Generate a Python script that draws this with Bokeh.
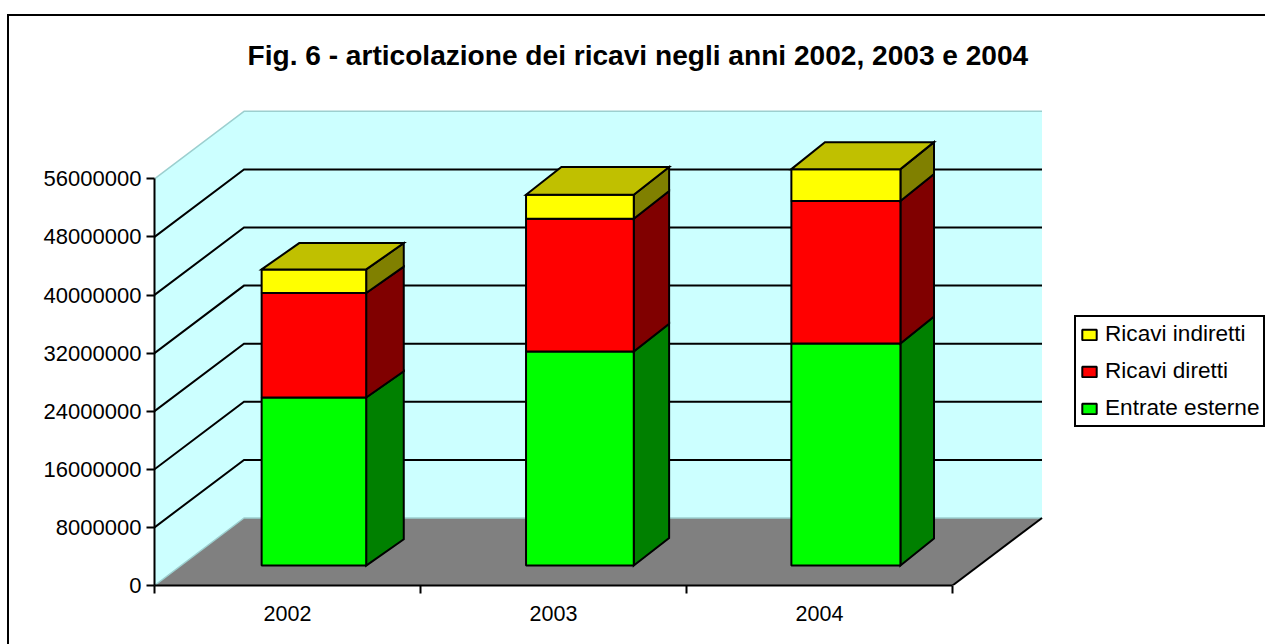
from bokeh.embed import file_html
from bokeh.resources import INLINE
from bokeh.plotting import figure
from bokeh.models import (ColumnDataSource, FixedTicker, Legend, LegendItem, LinearAxis,
                          NumeralTickFormatter, Range1d, Title)

# ---- data -------------------------------------------------------------
TITLE = "Fig. 6 - articolazione dei ricavi negli anni 2002, 2003 e 2004"
years = ["2002", "2003", "2004"]
entrate_esterne = [23140000, 29480000, 30580000]
ricavi_diretti = [14400000, 18280000, 19630000]
ricavi_indiretti = [3240000, 3310000, 4380000]
value_ticks = [0, 8000000, 16000000, 24000000, 32000000, 40000000, 48000000, 56000000]

# ---- geometry of the oblique projection --------------------------------
WIDTH, HEIGHT = 1265, 644
LEFT, TOP, BOTTOM = 154, 100, 585           # frame edges on the canvas
PX_X = 266.0                                # px per category
PX_Y = 58.1 / 8000000                       # px per value unit
DEPTH_PX_X, DEPTH_PX_Y = 89.5, 67.5         # full floor depth on screen
DX = DEPTH_PX_X / PX_X                      # depth -> category units
DY = DEPTH_PX_Y / PX_Y                      # depth -> value units
BAR_FRONT = 0.295                           # depth of the bars' front face
bar_widths = [0.393, 0.405, 0.41]
bar_rear_x = [0.715, 0.69, 0.67]
bar_rear_y = [0.685, 0.705, 0.695]


def pt(x, v, d, d_y=None):
    """Project category position, value and depth to the plot's data space."""
    return x + d * DX, v + (d if d_y is None else d_y) * DY


def poly(*corners):
    pts = [pt(*c) for c in corners]
    return [q[0] for q in pts], [q[1] for q in pts]


FRAME_CSS = (":host::before{content:'';position:absolute;left:7px;top:14px;right:-1px;bottom:-1px;"
             "border-left:2px solid #000;border-top:2px solid #000;z-index:5;pointer-events:none;}")

p = figure(width=WIDTH, height=HEIGHT, output_backend="svg", toolbar_location=None,
           frame_width=WIDTH - LEFT, frame_height=BOTTOM - TOP,
           x_range=Range1d(0, (WIDTH - LEFT) / PX_X),
           y_range=Range1d(0, (BOTTOM - TOP) / PX_Y),
           min_border_left=LEFT, min_border_right=0, min_border_top=TOP,
           min_border_bottom=HEIGHT - BOTTOM,
           background_fill_color=None, border_fill_color="white", outline_line_color=None,
           stylesheets=[FRAME_CSS])
p.grid.visible = False
p.xaxis.visible = False
p.yaxis.visible = False

# ---- axes --------------------------------------------------------------
AXIS_FONT = "Liberation Sans"

yaxis = LinearAxis(ticker=FixedTicker(ticks=value_ticks), formatter=NumeralTickFormatter(format="0"),
                   bounds=(0, value_ticks[-1]), axis_line_color="black", axis_line_width=2,
                   major_tick_line_color="black", major_tick_line_width=2,
                   major_tick_in=0, major_tick_out=8, minor_tick_line_color=None,
                   major_label_text_font=AXIS_FONT, major_label_text_font_size="22px",
                   major_label_text_color="black", major_label_standoff=5)
p.add_layout(yaxis, "left")

centres = [i + 0.5 for i in range(len(years))]
edges = list(range(len(years) + 1))
xaxis = LinearAxis(ticker=FixedTicker(ticks=centres, minor_ticks=edges),
                   major_label_overrides={c: y for c, y in zip(centres, years)},
                   bounds=(0, len(years)), axis_line_color="black", axis_line_width=2,
                   major_tick_line_color=None, minor_tick_line_color="black", minor_tick_line_width=2,
                   minor_tick_in=0, minor_tick_out=8,
                   major_label_text_font=AXIS_FONT, major_label_text_font_size="21.5px",
                   major_label_text_color="black", major_label_standoff=12)
p.add_layout(xaxis, "below")

# ---- walls and floor ---------------------------------------------------
n = len(years)
vmax = value_ticks[-1]
WALL = "#CCFFFF"
EDGE = "#9CCFCF"
wx, wy = poly((0, 0, 0), (0, 0, 1), (n, 0, 1), (n, vmax, 1), (0, vmax, 1), (0, vmax, 0))
p.patch(wx, wy, fill_color=WALL, line_color=None)
fx, fy = poly((0, 0, 0), (0, 0, 1), (n, 0, 1), (n, 0, 0))
p.patch(fx, fy, fill_color="#808080", line_color=None)

# thin wall edges
exs, eys = [], []
for seg in [[(0, vmax, 0), (0, vmax, 1), (n, vmax, 1)], [(0, 0, 0), (0, 0, 1), (n, 0, 1)]]:
    ex, ey = poly(*seg)
    exs.append(ex)
    eys.append(ey)
p.multi_line(exs, eys, line_color=EDGE, line_width=1.5)

# gridlines
gx, gy = [], []
for v in value_ticks[1:-1]:
    ex, ey = poly((0, v, 0), (0, v, 1), (n, v, 1))
    gx.append(ex)
    gy.append(ey)
p.multi_line(gx, gy, line_color="black", line_width=2, line_join="miter")
ex, ey = poly((n, 0, 0), (n, 0, 1))
p.line(ex, ey, line_color="black", line_width=2)

# ---- stacked 3-D bars ----------------------------------------------------
series = [
    ("Entrate esterne", entrate_esterne, "#00FF00", "#008000"),
    ("Ricavi diretti", ricavi_diretti, "#FF0000", "#800000"),
    ("Ricavi indiretti", ricavi_indiretti, "#FFFF00", "#808000"),
]
TOP_COLOR = "#C0C000"
base = [0.0] * n
front_renderers = {}
for name, vals, front, side in series:
    tops = [b + v for b, v in zip(base, vals)]
    sx, sy = [], []
    left, right, bot, upper = [], [], [], []
    for i in range(n):
        x0 = centres[i] - bar_widths[i] / 2
        x1 = centres[i] + bar_widths[i] / 2
        rx, ry = bar_rear_x[i], bar_rear_y[i]
        ax, ay = poly((x1, base[i], BAR_FRONT), (x1, base[i], rx, ry),
                      (x1, tops[i], rx, ry), (x1, tops[i], BAR_FRONT))
        sx.append(ax)
        sy.append(ay)
        l, b = pt(x0, base[i], BAR_FRONT)
        rr, t = pt(x1, tops[i], BAR_FRONT)
        left.append(l); right.append(rr); bot.append(b); upper.append(t)
    p.patches(sx, sy, fill_color=side, line_color="black", line_width=2, line_join="miter")
    src = ColumnDataSource(dict(left=left, right=right, bottom=bot, top=upper))
    front_renderers[name] = p.quad(left="left", right="right", bottom="bottom", top="top", source=src,
                                   fill_color=front, line_color="black", line_width=2)
    base = tops

tx, ty = [], []
for i in range(n):
    x0 = centres[i] - bar_widths[i] / 2
    x1 = centres[i] + bar_widths[i] / 2
    rx, ry = bar_rear_x[i], bar_rear_y[i]
    ax, ay = poly((x0, base[i], BAR_FRONT), (x0, base[i], rx, ry),
                  (x1, base[i], rx, ry), (x1, base[i], BAR_FRONT))
    tx.append(ax)
    ty.append(ay)
p.patches(tx, ty, fill_color=TOP_COLOR, line_color="black", line_width=2, line_join="miter")

# ---- title ---------------------------------------------------------------
p.title = Title(text=TITLE, text_font=AXIS_FONT, text_font_size="28.1px", text_font_style="bold",
                text_color="black", align="left", offset=93, standoff=60)

# ---- legend ---------------------------------------------------------------
legend = Legend(items=[LegendItem(label=s[0], renderers=[front_renderers[s[0]]]) for s in reversed(series)],
                location=(920, 158), orientation="vertical", margin=0, padding=4, spacing=11,
                glyph_width=18, glyph_height=13, label_standoff=7,
                label_text_font=AXIS_FONT, label_text_font_size="22.6px", label_text_color="black",
                border_line_color="black", border_line_width=2, border_line_alpha=1,
                background_fill_color="white", background_fill_alpha=1)
p.add_layout(legend, "center")

open("out.html", "w").write(file_html(p, INLINE))
